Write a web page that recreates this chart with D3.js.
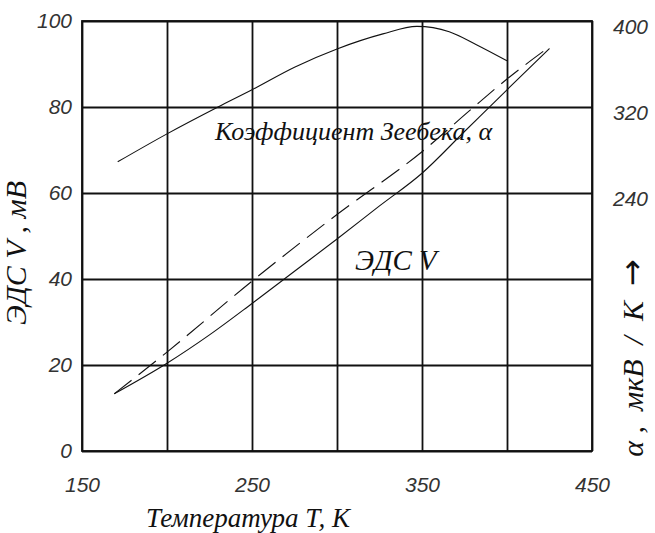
<!DOCTYPE html>
<html>
<head>
<meta charset="utf-8">
<script src="https://cdn.jsdelivr.net/npm/d3@7"></script>
<style>
  body { margin: 0; background: #fff; }
  .lbl { font-family: 'Liberation Serif', 'Times New Roman', serif; font-style: italic; font-size: 26px; fill: #111; }
</style>
</head>
<body>
<div id="chart"></div>
<script>
// temperature, K
var gridTemps = [150, 200, 250, 300, 350, 400, 450];
var tempTicks = [150, 250, 350, 450];
var emfTicks = [0, 20, 40, 60, 80, 100];
var alphaTicks = [240, 320, 400];

// Seebeck coefficient, uV/K (right axis)
var seebeckTemps = [171, 200, 230, 250, 275, 300, 327, 347, 366, 382, 400];
var seebeckAlpha = [269, 295, 320, 336, 357, 374, 388, 395, 390, 378, 363];

// EMF V, mV - solid
var emfTemps = [169, 200, 225, 250, 275, 300, 325, 350, 375, 400, 425];
var emfValues = [13.3, 20.4, 27, 34.3, 41.8, 49.3, 57, 64.6, 74.3, 84, 93.6];

// EMF V, mV - dashed
var emfDashTemps = [169, 200, 250, 300, 350, 379, 400, 425];
var emfDashValues = [13.3, 23, 39.5, 55, 69.6, 79.5, 86.5, 94];

var margin = {top: 21, right: 63, bottom: 82, left: 82};
var fullWidth = 655;
var fullHeight = 533;
var width = fullWidth - margin.left - margin.right;
var height = fullHeight - margin.top - margin.bottom;

var svg = d3.select('#chart').append('svg')
  .attr('width', fullWidth)
  .attr('height', fullHeight)
  .append('g')
    .attr('transform', 'translate(' + margin.left + ',' + margin.top + ')');

var x = d3.scaleLinear().domain([150, 450]).range([0, width]);
var y = d3.scaleLinear().domain([0, 100]).range([height, 0]);
var yRight = d3.scaleLinear().domain([0, 400]).range([height, 0]);

// grid
var gridX = svg.append('g')
  .attr('transform', 'translate(0,' + height + ')')
  .call(d3.axisBottom(x).tickValues(gridTemps).tickSize(-height).tickFormat(''));
var gridY = svg.append('g')
  .call(d3.axisLeft(y).tickValues(emfTicks).tickSize(-width).tickFormat(''));
svg.selectAll('.tick line').style('stroke', '#111').style('stroke-width', 1.8);
gridX.select('.domain').remove();
gridY.select('.domain').remove();

svg.append('rect')
  .attr('width', width)
  .attr('height', height)
  .style('fill', 'none')
  .style('stroke', '#111')
  .style('stroke-width', 1.8);

// tick labels
var xAxisEle = svg.append('g')
  .attr('transform', 'translate(0,' + height + ')')
  .call(d3.axisBottom(x).tickValues(tempTicks).tickSize(0).tickPadding(26));
var yAxisEle = svg.append('g')
  .call(d3.axisLeft(y).tickValues(emfTicks).tickSize(0).tickPadding(10));
var yRightEle = svg.append('g')
  .attr('transform', 'translate(' + width + ',0)')
  .call(d3.axisRight(yRight).tickValues(alphaTicks).tickSize(0).tickPadding(21));
[xAxisEle, yAxisEle, yRightEle].forEach(function(a) {
  a.select('.domain').remove();
  a.selectAll('.tick text')
    .style('font-family', "'Liberation Sans', Arial, sans-serif")
    .style('font-style', 'italic')
    .style('font-size', '21px')
    .style('fill', '#333');
});
yRightEle.selectAll('.tick text').attr('dy', '0.6em');

// curves
var seebeckLine = d3.line()
  .x(function(d) { return x(d[0]); })
  .y(function(d) { return yRight(d[1]); })
  .curve(d3.curveMonotoneX);
var emfLine = d3.line()
  .x(function(d) { return x(d[0]); })
  .y(function(d) { return y(d[1]); })
  .curve(d3.curveMonotoneX);

svg.append('path')
  .datum(d3.zip(seebeckTemps, seebeckAlpha))
  .attr('d', seebeckLine)
  .style('fill', 'none')
  .style('stroke', '#111')
  .style('stroke-width', 1.1);

svg.append('path')
  .datum(d3.zip(emfTemps, emfValues))
  .attr('d', emfLine)
  .style('fill', 'none')
  .style('stroke', '#111')
  .style('stroke-width', 1.1);

svg.append('path')
  .datum(d3.zip(emfDashTemps, emfDashValues))
  .attr('d', emfLine)
  .style('fill', 'none')
  .style('stroke', '#111')
  .style('stroke-width', 1.1)
  .style('stroke-dasharray', '22,9');

// labels
svg.append('text')
  .attr('class', 'lbl')
  .attr('x', 133)
  .attr('y', 119)
  .text('Коэффициент Зеебека, α');

svg.append('text')
  .attr('class', 'lbl')
  .attr('x', 273)
  .attr('y', 249)
  .style('font-size', '29px')
  .text('ЭДС V');

svg.append('text')
  .attr('class', 'lbl')
  .attr('text-anchor', 'middle')
  .attr('transform', 'translate(-56,' + (232) + ')rotate(-90)')
  .style('font-size', '30px')
  .text('ЭДС V , мВ');

var rightLbl = svg.append('text')
  .attr('class', 'lbl')
  .attr('text-anchor', 'middle')
  .attr('transform', 'translate(' + (width + 51) + ',337)rotate(-90)')
  .style('font-size', '30px')
  .style('white-space', 'pre');
rightLbl.append('tspan').text('α ,  мкВ  /  K  ');
rightLbl.append('tspan')
  .style('font-family', "'DejaVu Sans', sans-serif")
  .style('font-style', 'normal')
  .style('font-size', '32px')
  .text('→');

svg.append('text')
  .attr('class', 'lbl')
  .attr('text-anchor', 'middle')
  .attr('x', 166)
  .attr('y', height + 76)
  .style('font-size', '27px')
  .text('Температура T, K');
</script>
</body>
</html>
